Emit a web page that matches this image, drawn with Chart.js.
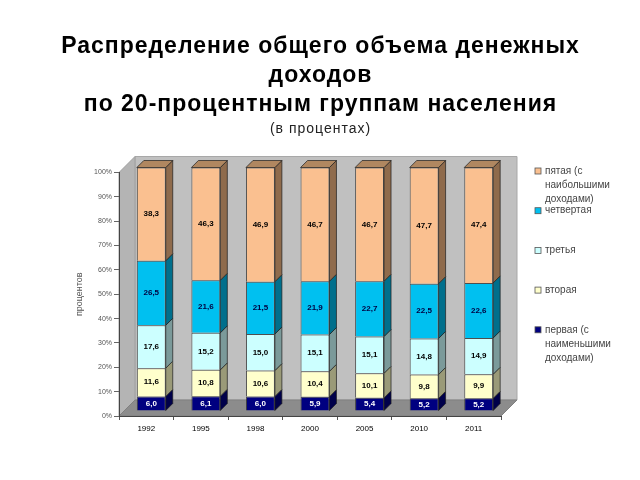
<!DOCTYPE html>
<html>
<head>
<meta charset="utf-8">
<script src="https://cdn.jsdelivr.net/npm/chart.js@4.4.0/dist/chart.umd.min.js"></script>
<style>
  html, body { margin: 0; padding: 0; background: #fff; }
</style>
</head>
<body>
<canvas id="chart" width="640" height="480"></canvas>
<script>
// data (shares of total income, %)
const years = ['1992', '1995', '1998', '2000', '2005', '2010', '2011'];
const group1 = [6.0, 6.1, 6.0, 5.9, 5.4, 5.2, 5.2];
const group2 = [11.6, 10.8, 10.6, 10.4, 10.1, 9.8, 9.9];
const group3 = [17.6, 15.2, 15.0, 15.1, 15.1, 14.8, 14.9];
const group4 = [26.5, 21.6, 21.5, 21.9, 22.7, 22.5, 22.6];
const group5 = [38.3, 46.3, 46.9, 46.7, 46.7, 47.7, 47.4];
const groupLabels = [
    ['первая (с', 'наименьшими', 'доходами)'],
    ['вторая'],
    ['третья'],
    ['четвертая'],
    ['пятая (с', 'наибольшими', 'доходами)']
];
const titleLines = ['Распределение общего объема денежных', 'доходов', 'по 20-процентным группам населения'];
const subtitleText = '(в процентах)';

// styles
const faceColors = ['#000080', '#FFFFCC', '#CCFFFF', '#00C0F0', '#FAC090'];
const sideColors = ['#00004a', '#9a9a78', '#7b9a9a', '#006f8c', '#8f6b4c'];
const topColors  = ['#000060', '#c8c8a0', '#a0c8c8', '#0090b8', '#b08760'];
const labelColors = ['#ffffff', '#000000', '#000000', '#000040', '#000000'];

const depth = 7;      // bar depth
const shift = 5;      // bars sit a bit behind the front plane
const wallDepth = 16; // depth of the box

function poly(ctx, pts, fill, stroke) {
    ctx.beginPath();
    ctx.moveTo(pts[0][0], pts[0][1]);
    for (let i = 1; i < pts.length; i++) ctx.lineTo(pts[i][0], pts[i][1]);
    ctx.closePath();
    ctx.fillStyle = fill;
    ctx.fill();
    if (stroke) {
        ctx.strokeStyle = stroke;
        ctx.lineWidth = 1;
        ctx.stroke();
    }
}

// centred text with a little extra tracking, like the original slide
function spacedText(ctx, text, cx, cy, spacing) {
    if ('letterSpacing' in ctx) {
        ctx.letterSpacing = spacing + 'px';
        const w = ctx.measureText(text).width - spacing;
        ctx.textAlign = 'left';
        ctx.fillText(text, cx - w / 2, cy);
        ctx.letterSpacing = '0px';
    } else {
        ctx.textAlign = 'center';
        ctx.fillText(text, cx, cy);
    }
}

const box3d = {
    id: 'box3d',
    beforeDraw(chart) {
        const { ctx, chartArea: a } = chart;
        const w = wallDepth;
        ctx.save();
        // title
        ctx.fillStyle = '#000';
        ctx.textBaseline = 'middle';
        ctx.font = 'bold 23px "Liberation Sans", Arial, sans-serif';
        titleLines.forEach((line, i) => spacedText(ctx, line, chart.width / 2, 47 + i * 28.6, 1));
        ctx.fillStyle = '#222';
        ctx.font = '14px "Liberation Sans", Arial, sans-serif';
        spacedText(ctx, subtitleText, chart.width / 2, 129, 1);

        // back wall
        poly(ctx, [[a.left + w, a.top - w], [a.right + w, a.top - w], [a.right + w, a.bottom - w], [a.left + w, a.bottom - w]], '#c0c0c0', '#a8a8a8');
        // left wall
        poly(ctx, [[a.left, a.top], [a.left + w, a.top - w], [a.left + w, a.bottom - w], [a.left, a.bottom]], '#b4b4b4', '#a0a0a0');
        // floor
        poly(ctx, [[a.left, a.bottom], [a.left + w, a.bottom - w], [a.right + w, a.bottom - w], [a.right, a.bottom]], '#8c8c8c', '#808080');
        ctx.restore();
    },
    beforeDatasetsDraw(chart) {
        chart.ctx.save();
        chart.ctx.translate(shift, -shift);
    },
    afterDatasetsDraw(chart) {
        const ctx = chart.ctx;
        const last = chart.data.datasets.length - 1;
        chart.data.datasets.forEach((ds, di) => {
            const meta = chart.getDatasetMeta(di);
            meta.data.forEach((bar, i) => {
                const { x, y, base, width } = bar.getProps(['x', 'y', 'base', 'width'], true);
                const l = x - width / 2, r = x + width / 2;
                poly(ctx, [[r, y], [r + depth, y - depth], [r + depth, base - depth], [r, base]], sideColors[di], 'rgba(30,30,30,0.7)');
                if (di === last) {
                    poly(ctx, [[l, y], [l + depth, y - depth], [r + depth, y - depth], [r, y]], topColors[di], 'rgba(30,30,30,0.7)');
                }
                // value label
                ctx.font = 'bold 8px "Liberation Sans", Arial, sans-serif';
                ctx.fillStyle = labelColors[di];
                ctx.textAlign = 'center';
                ctx.textBaseline = 'middle';
                ctx.fillText(ds.data[i].toFixed(1).replace('.', ','), x, (y + base) / 2);
            });
        });
        ctx.restore();
    },
    afterDraw(chart) {
        // legend on the right, top entry first
        const ctx = chart.ctx;
        ctx.save();
        ctx.font = '10px "Liberation Sans Narrow", "Liberation Sans", Arial, sans-serif';
        ctx.textBaseline = 'middle';
        ctx.textAlign = 'left';
        const x0 = 535, y0 = 171, step = 39.7, lineH = 14;
        for (let k = 0; k < groupLabels.length; k++) {
            const di = groupLabels.length - 1 - k;
            const yy = y0 + k * step;
            ctx.fillStyle = faceColors[di];
            ctx.fillRect(x0, yy - 3, 6, 6);
            ctx.strokeStyle = '#555';
            ctx.lineWidth = 0.8;
            ctx.strokeRect(x0, yy - 3, 6, 6);
            ctx.fillStyle = '#444';
            groupLabels[di].forEach((line, li) => ctx.fillText(line, x0 + 10, yy + li * lineH));
        }
        ctx.restore();
    }
};

const datasets = [group1, group2, group3, group4, group5].map((values, i) => ({
    label: groupLabels[i].join(' '),
    data: values,
    backgroundColor: faceColors[i],
    borderColor: 'rgba(30,30,30,0.7)',
    borderWidth: 1,
    barPercentage: 0.53,
    categoryPercentage: 1.0,
    clip: false
}));

new Chart(document.getElementById('chart'), {
    type: 'bar',
    data: { labels: years, datasets: datasets },
    options: {
        responsive: false,
        animation: false,
        layout: { padding: { left: 0, right: 0, top: 172.5, bottom: 44 } },
        plugins: {
            legend: { display: false },
            tooltip: { enabled: false },
            title: { display: false }
        },
        scales: {
            x: {
                stacked: true,
                afterFit(s) { s.height = 20; },
                grid: { display: true, drawOnChartArea: false, tickLength: 4, color: '#555', offset: true },
                border: { display: true, color: '#444' },
                ticks: { color: '#000', font: { family: '"Liberation Sans", Arial, sans-serif', size: 8 }, padding: 4 }
            },
            y: {
                stacked: true,
                min: 0,
                max: 100,
                afterFit(s) { s.width = 119; },
                grid: { display: true, drawOnChartArea: false, tickLength: 5, color: '#666' },
                border: { display: true, color: '#444' },
                ticks: {
                    stepSize: 10,
                    color: '#555',
                    padding: 2,
                    font: { family: '"Liberation Sans", Arial, sans-serif', size: 7 },
                    callback: v => v + '%'
                },
                title: {
                    display: true,
                    text: 'процентов',
                    color: '#555',
                    font: { family: '"Liberation Sans", Arial, sans-serif', size: 9 },
                    padding: { top: 74, bottom: 0 }
                }
            },
            // empty right-hand box that leaves room for the legend
            yLegend: {
                type: 'linear',
                position: 'right',
                display: true,
                afterFit(s) { s.width = 139; },
                grid: { display: false },
                border: { display: false },
                ticks: { display: false }
            }
        }
    },
    plugins: [box3d]
});
</script>
</body>
</html>
